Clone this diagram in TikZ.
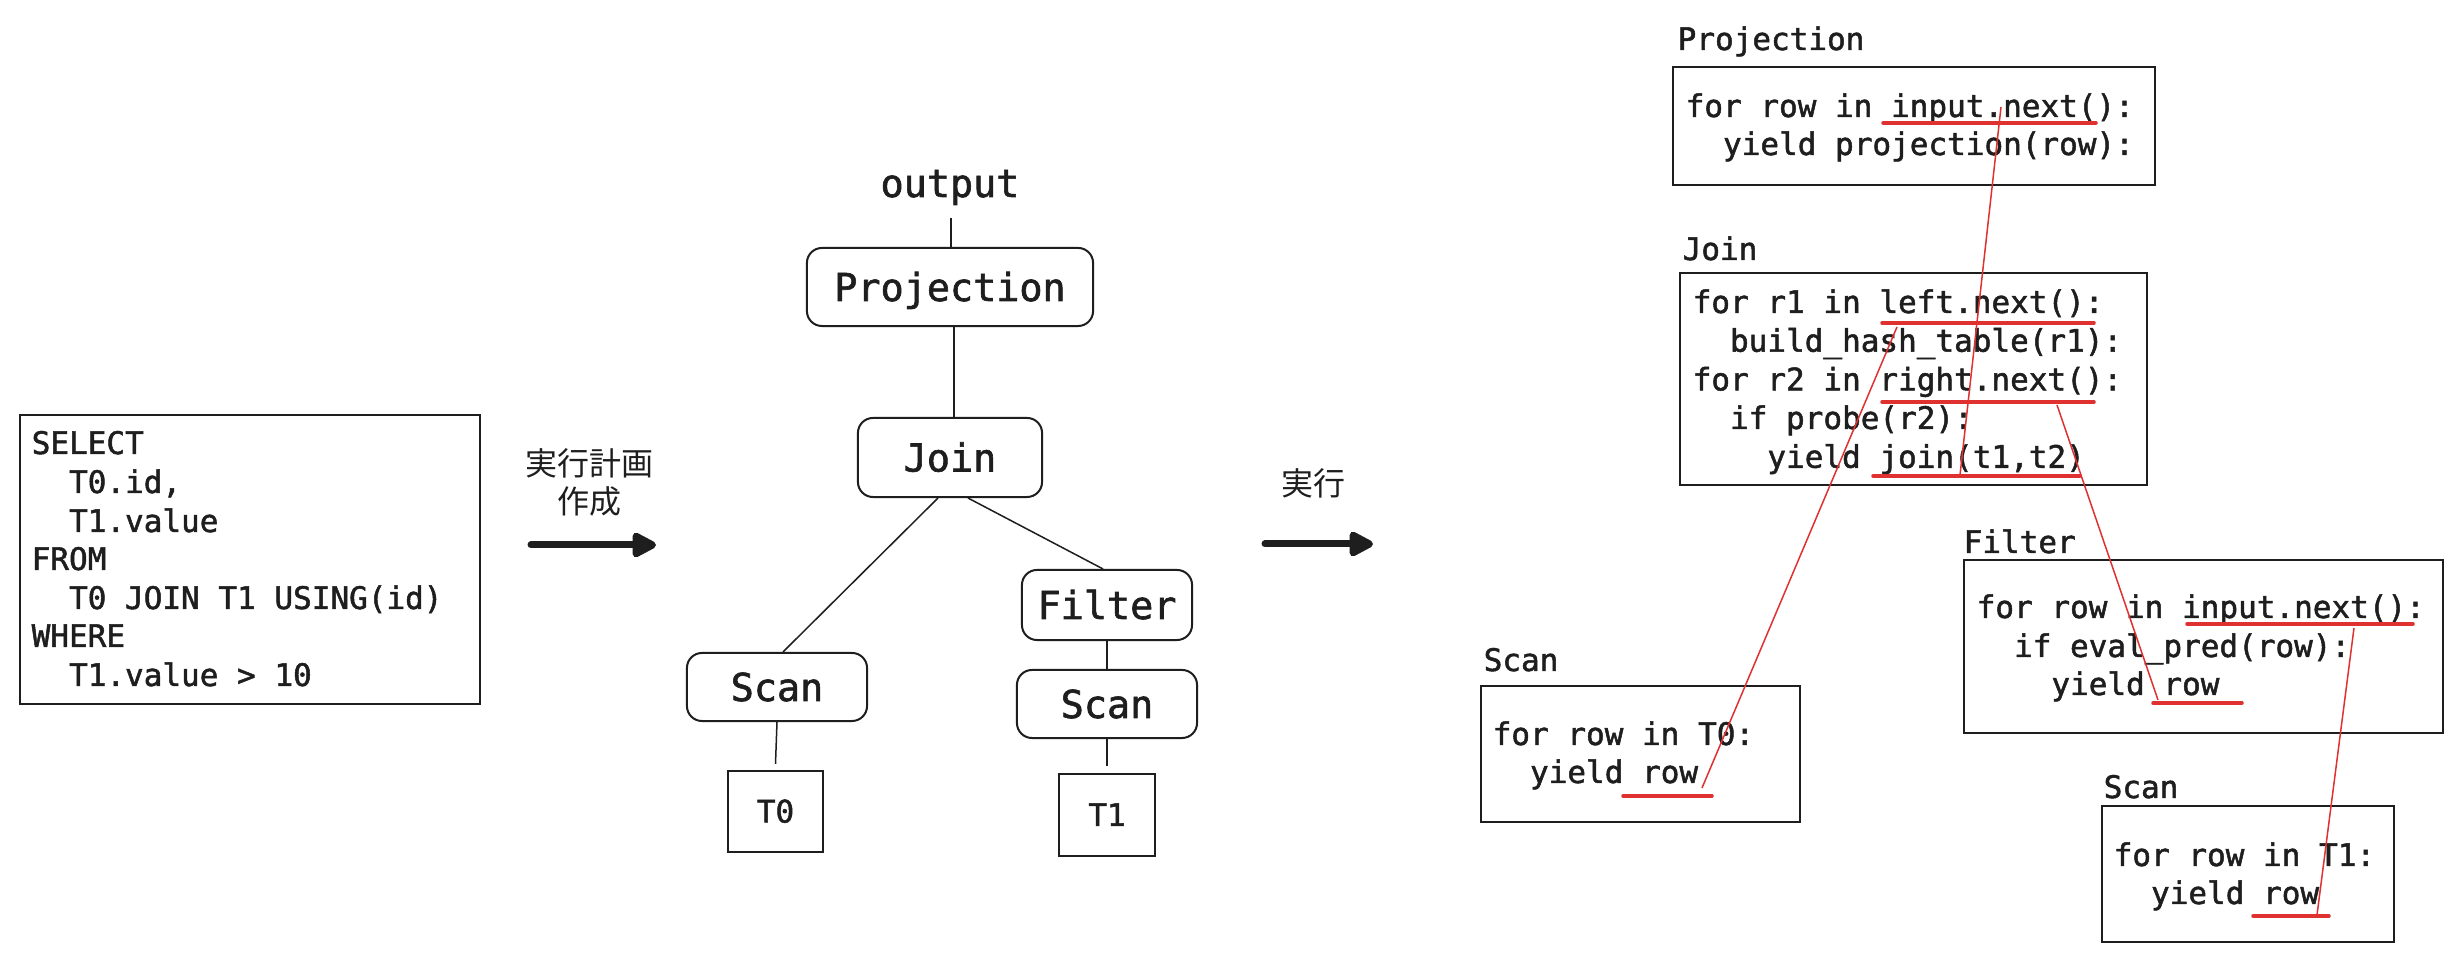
\documentclass[tikz,border=0pt]{standalone}
\usepackage{fontspec}
\newfontfamily\codefont[FakeBold=1.6]{DejaVu Sans Mono}
\newfontfamily\jpfont{Noto Sans CJK JP}
\usetikzlibrary{arrows.meta,calc}
\definecolor{ink}{HTML}{1E1E1E}
\definecolor{redline}{HTML}{E03131}
\tikzset{
  code/.style={font=\codefont\fontsize{8.82pt}{11pt}\selectfont, text=ink, inner sep=0pt, anchor=base west},
  opnode/.style={draw=ink, line width=0.2mm, rounded corners=1.5mm, inner sep=0pt,
    font=\codefont\fontsize{10.93pt}{13pt}\selectfont, text=ink, text height=2.8mm, text depth=0pt},
  tblnode/.style={draw=ink, line width=0.2mm, inner sep=0pt,
    font=\codefont\fontsize{8.82pt}{11pt}\selectfont, text=ink, text height=2.2mm, text depth=0pt},
  cbox/.style={draw=ink, line width=0.2mm, inner sep=0pt},
  conn/.style={draw=ink, line width=0.15mm},
  ul/.style={draw=redline, line width=0.35mm, line cap=round},
  link/.style={draw=redline, line width=0.15mm},
  bigarrow/.style={draw=ink, line width=0.7mm, line cap=round, -{Triangle[length=2.8mm,width=2.7mm,round]}},
  jp/.style={font=\jpfont\fontsize{9.1pt}{11pt}\selectfont, text=ink, inner sep=0pt}
}
\begin{document}
\begin{tikzpicture}[x=0.01cm,y=-0.01cm]
\fill[white] (0,0) rectangle (2462,962);
\useasboundingbox (0,0) rectangle (2462,962);

% ---------- SQL ----------
\node[cbox, minimum width=46mm, minimum height=28.9mm] (sqlbox) at (250,559.5) {};
\node[code] (sq1) at (31,454) {SELECT};
\node[code] (sq2) at (31,493) {\hphantom{xx}T0.id,};
\node[code] (sq3) at (31,532) {\hphantom{xx}T1.value};
\node[code] (sq4) at (31,570) {FROM};
\node[code] (sq5) at (31,609) {\hphantom{xx}T0 JOIN T1 USING(id)};
\node[code] (sq6) at (31,647) {WHERE};
\node[code] (sq7) at (31,686) {\hphantom{xx}T1.value > 10};

% ---------- arrow 1 ----------
\node[jp] (plan1) at (589,463) {実行計画};
\node[jp] (plan2) at (589,501) {作成};
\coordinate (a1s) at (531,545);
\coordinate (a1e) at (656,545);
\draw[bigarrow] (a1s) -- (a1e);

% ---------- tree ----------
\node[font=\codefont\fontsize{10.93pt}{13pt}\selectfont, text=ink, inner sep=0pt, anchor=base] (output) at (950,197) {output};
\node[opnode, minimum width=28.6mm, minimum height=7.8mm] (proj) at (950,287) {Projection};
\node[opnode, minimum width=18.4mm, minimum height=7.9mm] (join) at (950,457.5) {Join};
\node[opnode, minimum width=17mm, minimum height=7mm] (filter) at (1107,605) {Filter};
\node[opnode, minimum width=18mm, minimum height=6.8mm] (scanr) at (1107,704) {Scan};
\node[opnode, minimum width=18mm, minimum height=6.8mm] (scanl) at (777,687) {Scan};
\node[tblnode, minimum width=9.5mm, minimum height=8.1mm] (t0) at (775.5,811.5) {T0};
\node[tblnode, minimum width=9.6mm, minimum height=8.2mm] (t1) at (1107,815) {T1};

\draw[conn] ($(output.base)+(1,21)$) -- ($(proj.north)+(1,0)$);
\draw[conn] ($(proj.south)+(4,0)$) -- ($(join.north)+(4,0)$);
\draw[conn] ($(join.south)+(-12,0)$) -- ($(scanl.north)+(6,0)$);
\draw[conn] ($(join.south)+(18,0)$) -- ($(filter.north)+(-4,0)$);
\draw[conn] (filter.south) -- (scanr.north);
\draw[conn] (scanl.south) -- ($(t0.north)+(0,-6)$);
\draw[conn] (scanr.south) -- ($(t1.north)+(0,-7)$);

% ---------- arrow 2 ----------
\node[jp] (exec) at (1313,483.5) {実行};
\coordinate (a2s) at (1265,544);
\coordinate (a2e) at (1373,544);
\draw[bigarrow] (a2s) -- (a2e);

% ---------- Projection code ----------
\node[code] (ptitle) at (1677,50) {Projection};
\node[cbox, minimum width=48.2mm, minimum height=11.8mm] (pbox) at (1914,126) {};
\node[code] (p1) at (1685,117) {for row in input.next():};
\node[code] (p2) at (1685,155) {\hphantom{xx}yield projection(row):};

% ---------- Join code ----------
\node[code] (jtitle) at (1682,260) {Join};
\node[cbox, minimum width=46.7mm, minimum height=21.2mm] (jbox) at (1913.5,379) {};
\node[code] (j1) at (1692,313) {for r1 in left.next():};
\node[code] (j2) at (1692,351.7) {\hphantom{xx}build\_hash\_table(r1):};
\node[code] (j3) at (1692,390.4) {for r2 in right.next():};
\node[code] (j4) at (1692,429) {\hphantom{xx}if probe(r2):};
\node[code] (j5) at (1692,467.8) {\hphantom{xxxx}yield join(t1,t2)};

% ---------- Scan T0 code ----------
\node[code] (s0title) at (1483,671) {Scan};
\node[cbox, minimum width=31.9mm, minimum height=13.6mm] (s0box) at (1640.5,754) {};
\node[code] (s01) at (1492,745) {for row in T0:};
\node[code] (s02) at (1492,783) {\hphantom{xx}yield row};

% ---------- Filter code ----------
\node[code] (ftitle) at (1963,553) {Filter};
\node[cbox, minimum width=47.9mm, minimum height=17.3mm] (fbox) at (2203.5,646.5) {};
\node[code] (f1) at (1976,618) {for row in input.next():};
\node[code] (f2) at (1976,657) {\hphantom{xx}if eval\_pred(row):};
\node[code] (f3) at (1976,695) {\hphantom{xxxx}yield row};

% ---------- Scan T1 code ----------
\node[code] (s1title) at (2103,798) {Scan};
\node[cbox, minimum width=29.2mm, minimum height=13.6mm] (s1box) at (2248,874) {};
\node[code] (s11) at (2113,866) {for row in T1:};
\node[code] (s12) at (2113,904) {\hphantom{xx}yield row};

% ---------- red underlines ----------
\coordinate (pua) at (1883,123); \coordinate (pub) at (2096,123);
\coordinate (j1a) at (1882,323); \coordinate (j1b) at (2094,323);
\coordinate (j2a) at (1882,402); \coordinate (j2b) at (2094,402);
\coordinate (j3a) at (1873,476); \coordinate (j3b) at (2080,476);
\coordinate (s0a) at (1623,796); \coordinate (s0b) at (1712,796);
\coordinate (f1a) at (2187,624); \coordinate (f1b) at (2413,624);
\coordinate (f2a) at (2153,703); \coordinate (f2b) at (2242,703);
\coordinate (s1a) at (2253,916); \coordinate (s1b) at (2329,916);
\draw[ul] (pua) -- (pub);
\draw[ul] (j1a) -- (j1b);
\draw[ul] (j2a) -- (j2b);
\draw[ul] (j3a) -- (j3b);
\draw[ul] (s0a) -- (s0b);
\draw[ul] (f1a) -- (f1b);
\draw[ul] (f2a) -- (f2b);
\draw[ul] (s1a) -- (s1b);

% ---------- red links ----------
\coordinate (lp) at (2001,107);   \coordinate (lj3) at (1960,475);
\coordinate (lj1) at (1897,327);  \coordinate (ls0) at (1702,788);
\coordinate (lj2) at (2057,405);  \coordinate (lf2) at (2158,700);
\coordinate (lf1) at (2354,628);  \coordinate (ls1) at (2317,915);
\draw[link] (lp) -- (lj3);
\draw[link] (lj1) -- (ls0);
\draw[link] (lj2) -- (lf2);
\draw[link] (lf1) -- (ls1);
\end{tikzpicture}
\end{document}
